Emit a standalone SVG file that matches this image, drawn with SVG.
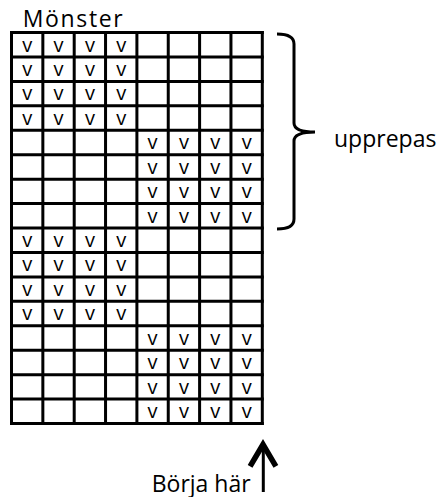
<svg xmlns="http://www.w3.org/2000/svg" width="439" height="497" viewBox="0 0 439 497">
<style>
.g{stroke:#000;stroke-width:3;fill:none;stroke-linecap:square}
.v{font-family:"Open Sans","Liberation Sans",sans-serif;font-size:20px;fill:#000;text-anchor:middle}
.t{font-family:"Open Sans","Liberation Sans",sans-serif;font-size:23px;fill:#000}
</style>
<rect width="439" height="497" fill="#fff"/>
<g id="title"><text class="t" x="22.7" y="27" textLength="100" lengthAdjust="spacing">Mönster</text></g>
<g id="grid">
<path class="g" d="M11.5,32.5V423.5M42.85,32.5V423.5M74.2,32.5V423.5M105.55,32.5V423.5M136.9,32.5V423.5M168.25,32.5V423.5M199.6,32.5V423.5M230.95,32.5V423.5M262.3,32.5V423.5"/>
<path class="g" d="M11.5,32.5H262.3M11.5,56.94H262.3M11.5,81.38H262.3M11.5,105.81H262.3M11.5,130.25H262.3M11.5,154.69H262.3M11.5,179.13H262.3M11.5,203.56H262.3M11.5,228H262.3M11.5,252.44H262.3M11.5,276.88H262.3M11.5,301.31H262.3M11.5,325.75H262.3M11.5,350.19H262.3M11.5,374.63H262.3M11.5,399.06H262.3M11.5,423.5H262.3"/>
<g class="v">
<text x="27.18" y="51.5">v</text><text x="58.53" y="51.5">v</text><text x="89.88" y="51.5">v</text><text x="121.23" y="51.5">v</text>
<text x="27.18" y="75.94">v</text><text x="58.53" y="75.94">v</text><text x="89.88" y="75.94">v</text><text x="121.23" y="75.94">v</text>
<text x="27.18" y="100.38">v</text><text x="58.53" y="100.38">v</text><text x="89.88" y="100.38">v</text><text x="121.23" y="100.38">v</text>
<text x="27.18" y="124.81">v</text><text x="58.53" y="124.81">v</text><text x="89.88" y="124.81">v</text><text x="121.23" y="124.81">v</text>
<text x="152.58" y="149.25">v</text><text x="183.93" y="149.25">v</text><text x="215.28" y="149.25">v</text><text x="246.63" y="149.25">v</text>
<text x="152.58" y="173.69">v</text><text x="183.93" y="173.69">v</text><text x="215.28" y="173.69">v</text><text x="246.63" y="173.69">v</text>
<text x="152.58" y="198.13">v</text><text x="183.93" y="198.13">v</text><text x="215.28" y="198.13">v</text><text x="246.63" y="198.13">v</text>
<text x="152.58" y="222.56">v</text><text x="183.93" y="222.56">v</text><text x="215.28" y="222.56">v</text><text x="246.63" y="222.56">v</text>
<text x="27.18" y="247">v</text><text x="58.53" y="247">v</text><text x="89.88" y="247">v</text><text x="121.23" y="247">v</text>
<text x="27.18" y="271.44">v</text><text x="58.53" y="271.44">v</text><text x="89.88" y="271.44">v</text><text x="121.23" y="271.44">v</text>
<text x="27.18" y="295.88">v</text><text x="58.53" y="295.88">v</text><text x="89.88" y="295.88">v</text><text x="121.23" y="295.88">v</text>
<text x="27.18" y="320.31">v</text><text x="58.53" y="320.31">v</text><text x="89.88" y="320.31">v</text><text x="121.23" y="320.31">v</text>
<text x="152.58" y="344.75">v</text><text x="183.93" y="344.75">v</text><text x="215.28" y="344.75">v</text><text x="246.63" y="344.75">v</text>
<text x="152.58" y="369.19">v</text><text x="183.93" y="369.19">v</text><text x="215.28" y="369.19">v</text><text x="246.63" y="369.19">v</text>
<text x="152.58" y="393.63">v</text><text x="183.93" y="393.63">v</text><text x="215.28" y="393.63">v</text><text x="246.63" y="393.63">v</text>
<text x="152.58" y="418.06">v</text><text x="183.93" y="418.06">v</text><text x="215.28" y="418.06">v</text><text x="246.63" y="418.06">v</text>
</g>
</g>
<g id="connectors">
<path d="M277,34 Q294,34 294,44 L294,123 Q294,132 315,132 Q294,132 294,141 L294,219 Q294,229 277,229" fill="none" stroke="#000" stroke-width="3"/>
<path d="M263.3,446 V492" stroke="#000" stroke-width="3" fill="none"/>
<path d="M251.5,464 L263,444.5 L274.5,464" stroke="#000" stroke-width="5.5" fill="none" stroke-linecap="square"/>
</g>
<g id="repeat-label"><text class="t" x="334" y="146.7">upprepas</text></g>
<g id="start-label"><text class="t" x="151.7" y="491.5">Börja här</text></g>
</svg>
